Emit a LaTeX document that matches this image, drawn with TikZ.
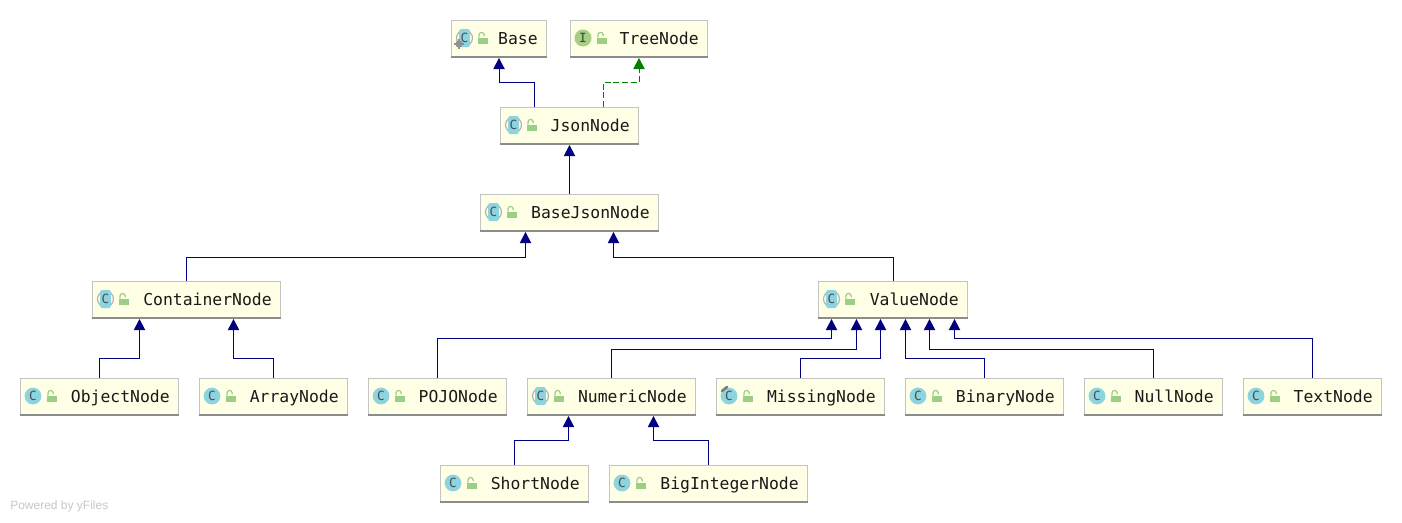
\documentclass[tikz,border=0pt]{standalone}
\usepackage{fontspec}
\setmainfont{Liberation Sans}
\newfontfamily\boxfont{DejaVu Sans Mono}
\usetikzlibrary{arrows.meta,calc}
\newdimen\upx \upx=0.75pt
\definecolor{boxfill}{HTML}{FEFFE5}
\definecolor{boxedge}{HTML}{C4C4C4}
\definecolor{boxshadow}{HTML}{8C8C8C}
\definecolor{extblue}{HTML}{000080}
\definecolor{implgreen}{HTML}{008000}
\definecolor{iconblue}{HTML}{8DD3E0}
\definecolor{icongreen}{HTML}{A6CE85}
\definecolor{lockgreen}{HTML}{9CCF86}
\definecolor{icongray}{HTML}{B4B4B4}
\tikzset{
  x=0.75pt,y=-0.75pt,
  umlbox/.style={draw=boxedge,fill=boxfill,line width=0.75pt,inner sep=0pt,anchor=north west,
    minimum height=36\upx,text height=11.4pt,text depth=2.6pt,font=\boxfont\fontsize{12.3pt}{14pt}\selectfont,text=black!90},
  boxbottom/.style={draw=boxshadow,line width=1.1pt},
  ext/.style={draw=extblue,line width=0.75pt,-{Triangle[length=8.4pt,width=8.6pt,fill=extblue]}},
  impl/.style={draw=implgreen,line width=0.75pt,dash pattern=on 4.5pt off 2pt,-{Triangle[length=8.4pt,width=8.6pt,fill=implgreen]}},
  iconletter/.style={inner sep=0pt,font=\boxfont\fontsize{9.5pt}{10pt}\selectfont,text=black!70},
}
% name, left, top, width, text, icon macro
\newcommand{\umlnode}[6]{%
  \node[umlbox] (#1) at (#2,#3) {\makebox[#4\upx][r]{#5\hspace{6.6pt}}};
  \draw[boxbottom] (#1.south west) -- (#1.south east);
  #6{#1}{#2}{#3}
  \fill[lockgreen] ({#2+27},{#3+17.5}) rectangle ({#2+37},{#3+24});
  \draw[lockgreen,line width=0.9pt] ({#2+28},{#3+17.5}) -- ({#2+28},{#3+15}) arc[start angle=180,delta angle=180,radius=2.6] -- ({#2+33.2},{#3+16});
}
\newcommand{\iconplain}[3]{%
  \fill[iconblue] ({#2+13},{#3+18}) circle[radius=8.4];
  \node[iconletter] (#1-icon) at ({#2+13},{#3+18}) {C};
}
\newcommand{\iconabstract}[3]{%
  \draw[icongray,line width=0.9pt] ({#2+13.5},{#3+18}) circle[radius=8];
  \fill[iconblue,rounded corners=1.5pt] ({#2+8.2},{#3+9}) rectangle ({#2+18.8},{#3+27});
  \node[iconletter] (#1-icon) at ({#2+13.5},{#3+18}) {C};
}
\newcommand{\iconbase}[3]{%
  \iconabstract{#1}{#2}{#3}
  \draw[icongray!80!black,line width=1.2pt] ({#2+8},{#3+24}) circle[radius=2.8];
  \draw[icongray!80!black,line width=0.9pt] ({#2+3},{#3+24}) -- ({#2+13},{#3+24}) ({#2+8},{#3+19}) -- ({#2+8},{#3+29});
}
\newcommand{\iconpin}[3]{%
  \iconplain{#1}{#2}{#3}
  \draw[icongray!70!black,line width=2pt,line cap=round] ({#2+6},{#3+13}) -- ({#2+11},{#3+9});
}
\newcommand{\iconinterface}[3]{%
  \fill[icongreen] ({#2+13},{#3+18}) circle[radius=8.5];
  \node[iconletter,text=black!65!icongreen] (#1-icon) at ({#2+13},{#3+18}) {I};
}
\begin{document}
\begin{tikzpicture}
\useasboundingbox[fill=white] (0,0) rectangle (1402,522);
\umlnode{base}{451}{20}{95}{Base}{\iconbase}
\umlnode{tree}{570}{20}{137}{TreeNode}{\iconinterface}
\umlnode{json}{500}{107}{138}{JsonNode}{\iconabstract}
\umlnode{bjson}{480}{194}{178}{BaseJsonNode}{\iconabstract}
\umlnode{cont}{92}{281}{188}{ContainerNode}{\iconabstract}
\umlnode{value}{818}{281}{149}{ValueNode}{\iconabstract}
\umlnode{obj}{20}{378}{158}{ObjectNode}{\iconplain}
\umlnode{arr}{199}{378}{148}{ArrayNode}{\iconplain}
\umlnode{pojo}{368}{378}{138}{POJONode}{\iconplain}
\umlnode{num}{527}{378}{168}{NumericNode}{\iconabstract}
\umlnode{miss}{716}{378}{168}{MissingNode}{\iconpin}
\umlnode{bin}{905}{378}{158}{BinaryNode}{\iconplain}
\umlnode{null}{1084}{378}{138}{NullNode}{\iconplain}
\umlnode{text}{1243}{378}{138}{TextNode}{\iconplain}
\umlnode{short}{440}{465}{148}{ShortNode}{\iconplain}
\umlnode{big}{609}{465}{198}{BigIntegerNode}{\iconplain}
% connectors: child top offset, rise, parent bottom offset
\newcommand{\conn}[6]{\draw[#1] ($(#2.north)+(#3,0)$) -- ++(0,-#6) -| ($(#4.south)+(#5,1)$);}
\conn{ext}{json}{-35}{base}{0}{25}
\conn{impl}{json}{34}{tree}{0}{25}
\draw[ext] (bjson.north) -- ($(json.south)+(0,1)$);
\conn{ext}{cont}{0}{bjson}{-44}{24}
\conn{ext}{value}{0}{bjson}{44}{24}
\conn{ext}{obj}{0}{cont}{-47}{20}
\conn{ext}{arr}{0}{cont}{47}{20}
\conn{ext}{pojo}{0}{value}{-61.5}{40}
\conn{ext}{num}{0}{value}{-36.5}{29}
\conn{ext}{miss}{0}{value}{-12.5}{20}
\conn{ext}{bin}{0}{value}{12.5}{20}
\conn{ext}{null}{0}{value}{36.5}{29}
\conn{ext}{text}{0}{value}{61.5}{40}
\conn{ext}{short}{0}{num}{-43}{25}
\conn{ext}{big}{0}{num}{42}{25}
\node[anchor=west,inner sep=0pt,text=black!22,font=\fontsize{9pt}{10pt}\selectfont] (powered) at (10,506) {Powered by yFiles};
\end{tikzpicture}
\end{document}
